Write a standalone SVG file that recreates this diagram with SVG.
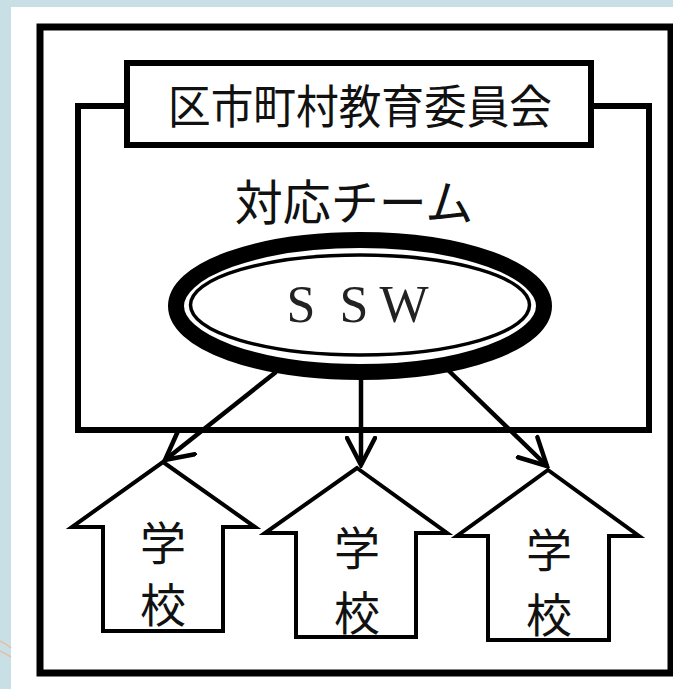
<svg xmlns="http://www.w3.org/2000/svg" width="673" height="689" viewBox="0 0 673 689">
<defs>
<style>
.frame{fill:none;stroke:#000;stroke-width:6}
.box{fill:#fff;stroke:#000;stroke-width:6}
.house{fill:#fff;stroke:#000;stroke-width:4;stroke-linejoin:miter}
.jp{font-family:"Noto Sans CJK JP","Noto Sans CJK SC",sans-serif;fill:#111;text-anchor:middle}
.conn{stroke:#000;stroke-width:4.5;fill:none;marker-end:url(#arr)}
</style>
<marker id="arr" viewBox="0 0 32 32" refX="29" refY="16" markerWidth="32" markerHeight="32" markerUnits="userSpaceOnUse" orient="auto">
<path d="M2,2 L29,16 L2,30" fill="none" stroke="#000" stroke-width="4.5" stroke-linecap="round" stroke-linejoin="miter"/>
</marker>
</defs>
<rect x="0" y="0" width="673" height="689" fill="#c9dfe6"/>
<rect x="11" y="7" width="662" height="682" fill="#fff"/>
<path d="M0,641 Q6,644 11,648" fill="none" stroke="#e6bfa3" stroke-width="1.5"/>
<path d="M0,651 Q6,654 11,657" fill="none" stroke="#e6bfa3" stroke-width="1.5"/>

<g id="outer-frame">
<rect x="40" y="27" width="631" height="646" fill="none" stroke="#000" stroke-width="7"/>
</g>

<g id="team-box">
<rect class="frame" x="78" y="106" width="571" height="324"/>
<text class="jp" x="354" y="220" font-size="48">対応チーム</text>
</g>

<g id="board">
<rect class="box" x="127" y="63" width="464" height="82"/>
<text class="jp" x="360" y="123" font-size="46" textLength="384" lengthAdjust="spacingAndGlyphs">区市町村教育委員会</text>
</g>

<g id="ssw">
<ellipse cx="360" cy="306" rx="184" ry="66" fill="#fff" stroke="#000" stroke-width="16"/>
<ellipse cx="360" cy="305" rx="169.5" ry="50" fill="none" stroke="#000" stroke-width="3.5"/>
<text x="301 354 404" y="322" font-family="'Liberation Serif',serif" font-size="52" fill="#222" text-anchor="middle">SSW</text>
</g>

<g id="connectors">
<line class="conn" x1="276" y1="372" x2="165" y2="460"/>
<line class="conn" x1="361" y1="368" x2="361" y2="465"/>
<line class="conn" x1="448" y1="370" x2="547" y2="466"/>
</g>

<g id="school1">
<polygon class="house" points="163,462 255,527 223,527 223,631 103,631 103,527 72,527"/>
<text class="jp" x="163" y="560" font-size="46">学</text>
<text class="jp" x="163" y="622" font-size="46">校</text>
</g>

<g id="school2">
<polygon class="house" points="357,468 447,533 416,533 416,637 296,637 296,533 265,533"/>
<text class="jp" x="357" y="565" font-size="46">学</text>
<text class="jp" x="357" y="630" font-size="46">校</text>
</g>

<g id="school3">
<polygon class="house" points="548,470 639,536 609,536 609,640 488,640 488,536 457,536"/>
<text class="jp" x="549" y="567" font-size="46">学</text>
<text class="jp" x="549" y="632" font-size="46">校</text>
</g>
</svg>
